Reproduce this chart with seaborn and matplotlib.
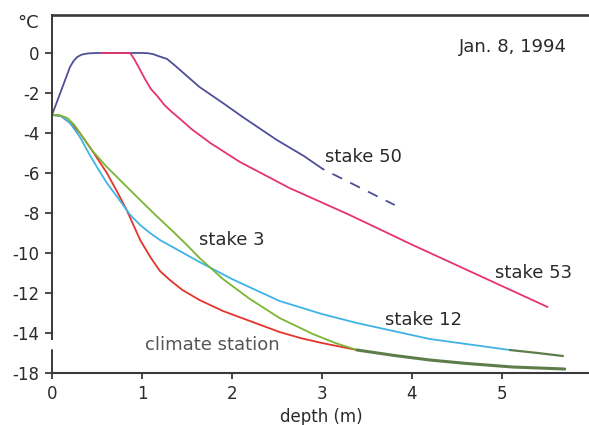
import matplotlib
matplotlib.use("Agg")
from matplotlib import pyplot as plt
import seaborn as sns

# depth (m) / temperature profiles, Jan. 8, 1994 (y in plotted units, bottom tick is broken)
depth_50 = [0, 0.1, 0.2, 0.24, 0.28, 0.33, 0.4, 0.5, 1.0, 1.06, 1.12, 1.18, 1.28, 1.36, 1.5, 1.64, 1.9, 2.12, 2.5, 2.8, 3.01]
temp_50 = [-3.1, -1.9, -0.7, -0.4, -0.2, -0.08, -0.02, 0, 0, -0.01, -0.05, -0.15, -0.3, -0.6, -1.15, -1.7, -2.5, -3.2, -4.35, -5.15, -5.8]
depth_50_est = [3.01, 3.81]
temp_50_est = [-5.8, -7.6]

depth_53 = [0.55, 0.87, 0.92, 0.98, 1.04, 1.1, 1.17, 1.25, 1.32, 1.45, 1.55, 1.76, 2.09, 2.64, 3.31, 4.01, 4.76, 5.51]
temp_53 = [0, 0, -0.35, -0.85, -1.35, -1.8, -2.15, -2.6, -2.9, -3.4, -3.8, -4.5, -5.45, -6.75, -8.1, -9.6, -11.15, -12.7]

depth_3 = [0, 0.08, 0.17, 0.25, 0.34, 0.45, 0.61, 0.8, 0.98, 1.15, 1.34, 1.5, 1.64, 1.9, 2.2, 2.53, 2.9, 3.15, 3.39]
temp_3 = [-3.1, -3.1, -3.25, -3.6, -4.2, -4.9, -5.7, -6.55, -7.35, -8.1, -8.9, -9.6, -10.25, -11.3, -12.3, -13.25, -14.05, -14.5, -14.85]

depth_12 = [0, 0.1, 0.2, 0.31, 0.42, 0.52, 0.61, 0.75, 0.87, 0.98, 1.09, 1.2, 1.34, 1.64, 2.0, 2.53, 3.0, 3.39, 4.2, 5.09]
temp_12 = [-3.1, -3.15, -3.5, -4.2, -5.1, -5.85, -6.5, -7.35, -8.1, -8.6, -9.0, -9.35, -9.7, -10.45, -11.3, -12.4, -13.05, -13.5, -14.3, -14.85]
depth_12_tail = [5.09, 5.4, 5.68]
temp_12_tail = [-14.85, -15.0, -15.15]

depth_cs = [0, 0.1, 0.2, 0.31, 0.45, 0.61, 0.72, 0.83, 0.98, 1.1, 1.2, 1.31, 1.45, 1.64, 1.9, 2.2, 2.53, 2.76, 3.0, 3.39]
temp_cs = [-3.1, -3.15, -3.5, -4.0, -4.9, -6.0, -6.9, -7.85, -9.35, -10.25, -10.9, -11.35, -11.85, -12.35, -12.9, -13.4, -13.95, -14.25, -14.5, -14.85]

# stake 3 and climate station merge here
depth_tail = [3.39, 3.8, 4.2, 4.6, 5.12, 5.7]
temp_tail = [-14.85, -15.12, -15.35, -15.52, -15.7, -15.8]

x_ticks = [0, 1, 2, 3, 4, 5]
y_ticks = [0, -2, -4, -6, -8, -10, -12, -14, -16]
y_tick_labels = ["0", "-2", "-4", "-6", "-8", "-10", "-12", "-14", "-18"]

sns.set_theme(style="ticks")
plt.rcParams["font.family"] = ["DejaVu Sans"]

fig = plt.figure(figsize=(5.89, 4.25), dpi=100)
ax = fig.add_axes([52 / 589, 52 / 425, 1 - 52 / 589, 358 / 425])

lw = 1.3
sns.lineplot(x=depth_cs, y=temp_cs, ax=ax, color="#e3342c", lw=lw, sort=False, estimator=None)
sns.lineplot(x=depth_12, y=temp_12, ax=ax, color="#3fb3e6", lw=lw, sort=False, estimator=None)
sns.lineplot(x=depth_12_tail, y=temp_12_tail, ax=ax, color="#5f7d4a", lw=1.6, sort=False, estimator=None)
sns.lineplot(x=depth_3, y=temp_3, ax=ax, color="#7bb534", lw=lw, sort=False, estimator=None)
sns.lineplot(x=depth_tail, y=temp_tail, ax=ax, color="#5f7d4a", lw=2.2, sort=False, estimator=None)
sns.lineplot(x=depth_50, y=temp_50, ax=ax, color="#4e4f98", lw=lw, sort=False, estimator=None)
ax.plot(depth_50_est, temp_50_est, color="#4e4f98", lw=lw, linestyle=(5, (6, 5)))
sns.lineplot(x=depth_53, y=temp_53, ax=ax, color="#e6336c", lw=lw, sort=False, estimator=None)

ax.set_xlim(0, 5.97)
ax.set_ylim(-16, 1.9)
ax.set_xticks(x_ticks)
ax.set_yticks(y_ticks)
ax.set_yticklabels(y_tick_labels)
ax.tick_params(axis="y", length=5, width=1.2, pad=4, labelsize=12, colors="#2a2a2a")
ax.tick_params(axis="x", length=4, width=1.2, pad=4.5, labelsize=12, colors="#2a2a2a")

ax.spines["right"].set_visible(False)
for side in ["top", "left", "bottom"]:
    ax.spines[side].set_color("#3a3a3a")
ax.spines["top"].set_linewidth(1.9)
ax.spines["left"].set_linewidth(1.4)
ax.spines["bottom"].set_linewidth(1.5)
# broken y axis between -14 and the bottom
ax.spines["left"].set_bounds(-14.3, 1.9)
ax.axvline(0, 0, 1.15 / 17.9, color="#3a3a3a", lw=1.4, clip_on=False)

ax.set_xlabel("depth (m)", fontsize=12, color="#2a2a2a")
ax.xaxis.set_label_coords(0.501, -0.123)
ax.xaxis.label.set_va("center")
ax.set_ylabel("")

fig.text(17 / 589, 1 - 23 / 425, "°C", fontsize=13, color="#2a2a2a", ha="left", va="center")
ax.text(5.72, 0.3, "Jan. 8, 1994", fontsize=13, color="#2a2a2a", ha="right", va="center")
ax.text(3.03, -5.2, "stake 50", fontsize=13, color="#2a2a2a", ha="left", va="center")
ax.text(4.92, -11.0, "stake 53", fontsize=13, color="#2a2a2a", ha="left", va="center")
ax.text(1.63, -9.35, "stake 3", fontsize=13, color="#2a2a2a", ha="left", va="center")
ax.text(3.7, -13.35, "stake 12", fontsize=13, color="#2a2a2a", ha="left", va="center")
ax.text(1.03, -14.6, "climate station", fontsize=13, color="#555555", ha="left", va="center")

fig.savefig("out.png", dpi=100)
